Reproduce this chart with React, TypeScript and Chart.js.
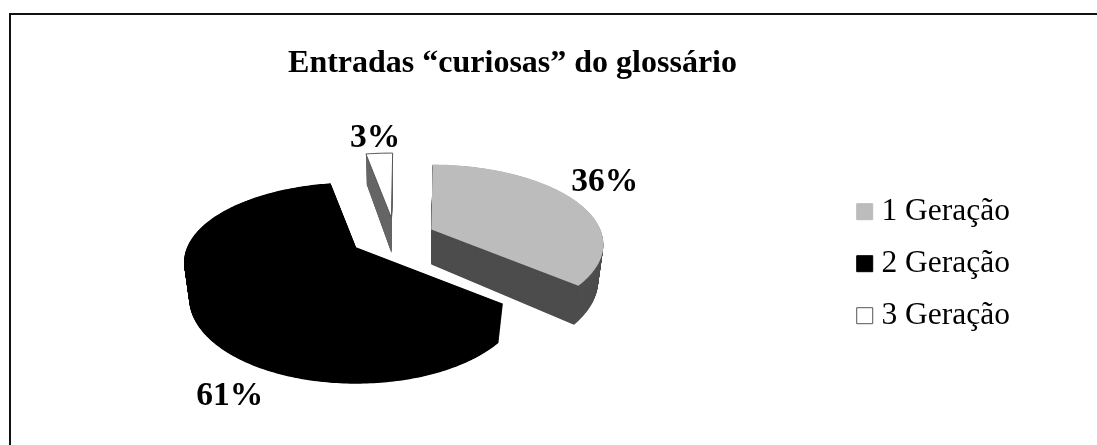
import React, { useEffect, useRef } from "react";
import { Chart, registerables } from "chart.js";

Chart.register(...registerables);

const categories = ["1 Geração", "2 Geração", "3 Geração"];
const shares = [36, 61, 3];
const percentLabels = ["36%", "61%", "3%"];
const chartTitle = "Entradas “curiosas” do glossário";
const topColours = ["#bcbcbc", "#000000", "#ffffff"];
const wallColours = ["#4d4d4d", "#000000", "#666666"];
const edgeColours = ["#bcbcbc", "#000000", "#555555"];
const sliceOffsets = [40, 45, 42];
const labelNudges = [[31, -17], [35, 106], [-4, -15]];

const SERIF = "'Liberation Serif', 'Times New Roman', serif";
// Pseudo 3D view of the flat pie
const VIEW = { cx: 395, cy: 237, p: 0.1875, k: 77 / 169, depth: 35, depthGrow: 0.07, shrink: 0.97 };

const pie3d = {
  id: "pie3d",
  beforeDatasetDraw(chart: any) {
    const ctx = chart.ctx;
    const arcs = chart.getDatasetMeta(0).data;
    const project = (a: number, r: number) => {
      const u = Math.cos(a) * r;
      const v = -Math.sin(a) * r;
      const w = 1 + VIEW.p * (v / arcs[0].outerRadius);
      return { x: u / w, y: (-v * VIEW.k) / w };
    };
    const order = [2, 0, 1];
    order.forEach((i) => {
      const arc = arcs[i];
      const mid = (arc.startAngle + arc.endAngle) / 2;
      const off = arc.options.offset;
      const ax = VIEW.cx + Math.cos(mid) * off;
      const ay = VIEW.cy + Math.sin(mid) * off * VIEW.k;
      const outline = [{ x: 0, y: 0 }];
      const steps = Math.max(8, Math.ceil((arc.endAngle - arc.startAngle) * 60));
      for (let s = 0; s <= steps; s++) {
        outline.push(project(arc.startAngle + ((arc.endAngle - arc.startAngle) * s) / steps, arc.outerRadius));
      }
      const trace = (t: number) => {
        ctx.beginPath();
        outline.forEach((pt, n) => {
          const sx = 1 + (VIEW.shrink - 1) * t;
          const px = ax + pt.x * sx;
          const py = ay + pt.y + t * (VIEW.depth + VIEW.depthGrow * pt.y);
          if (n === 0) ctx.moveTo(px, py);
          else ctx.lineTo(px, py);
        });
        ctx.closePath();
      };
      ctx.save();
      ctx.fillStyle = wallColours[i];
      for (let d = 70; d > 0; d--) {
        trace(d / 70);
        ctx.fill();
      }
      trace(0);
      ctx.fillStyle = topColours[i];
      ctx.fill();
      if (i === 2) {
        ctx.strokeStyle = edgeColours[i];
        ctx.lineWidth = 1;
        ctx.stroke();
      }
      ctx.restore();
    });
    ctx.save();
    ctx.font = `bold 33.5px ${SERIF}`;
    ctx.fillStyle = "#000";
    ctx.textAlign = "center";
    ctx.textBaseline = "middle";
    arcs.forEach((arc: any, i: number) => {
      const mid = (arc.startAngle + arc.endAngle) / 2;
      const pt = project(mid, arc.outerRadius);
      const off = arc.options.offset;
      ctx.fillText(
        percentLabels[i],
        VIEW.cx + Math.cos(mid) * off + pt.x + labelNudges[i][0],
        VIEW.cy + Math.sin(mid) * off * VIEW.k + pt.y + labelNudges[i][1]
      );
    });
    ctx.restore();
    return false;
  },
};

export default function App() {
  const ref = useRef<HTMLCanvasElement>(null);
  useEffect(() => {
    const chart = new Chart(ref.current as HTMLCanvasElement, {
      type: "pie",
      data: {
        labels: categories,
        datasets: [
          {
            data: shares,
            backgroundColor: topColours,
            borderColor: edgeColours,
            borderWidth: 1,
            offset: sliceOffsets,
            radius: 169,
            rotation: 0.5,
          } as any,
        ],
      },
      options: {
        animation: false,
        responsive: false,
        events: [],
        layout: { padding: { left: 5, right: 5, top: 0, bottom: 10 } },
        plugins: {
          tooltip: { enabled: false },
          title: {
            display: true,
            text: chartTitle,
            color: "#000",
            font: { family: SERIF, size: 32, weight: "bold" },
            padding: { top: 45, bottom: 9 },
          },
          legend: {
            position: "right",
            fullSize: false,
            labels: {
              color: "#000",
              font: { family: SERIF, size: 31.5 },
              usePointStyle: true,
              pointStyle: "rect",
              boxWidth: 2,
              boxHeight: 16,
              padding: 20.5,
            },
          },
        },
      },
      plugins: [pie3d],
    } as any);
    return () => chart.destroy();
  }, []);
  return (
    <div style={{ position: "absolute", left: 0, top: 0, width: 1097, height: 445, overflow: "hidden", background: "#fff" }}>
      <div style={{ position: "absolute", left: 9, top: 13, width: 1088, height: 432, borderLeft: "2px solid #111", borderTop: "2px solid #111", boxSizing: "border-box" }} />
      <canvas ref={ref} width={1025} height={445} style={{ position: "absolute", left: 0, top: 0 }} />
    </div>
  );
}
